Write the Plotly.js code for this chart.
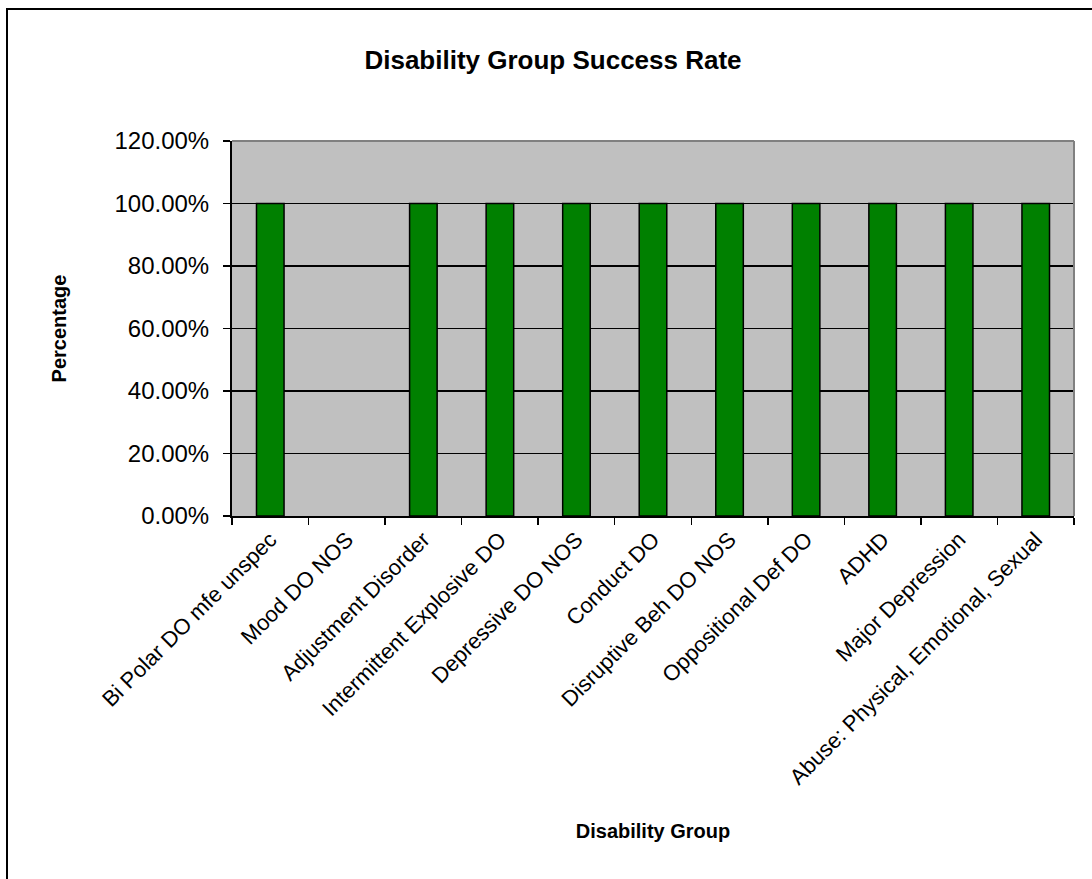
<!DOCTYPE html>
<html>
<head>
<meta charset="utf-8">
<script src="https://cdn.plot.ly/plotly-3.0.1.min.js"></script>
<style>
  html, body { margin: 0; padding: 0; background: #ffffff; }
  #wrap { position: relative; width: 1092px; height: 879px; overflow: hidden; }
  #chart { position: absolute; left: 0; top: 0; width: 1092px; height: 879px; }
  #frame { position: absolute; left: 6px; top: 8px; width: 1200px; height: 1000px;
           border-left: 2px solid #000; border-top: 2px solid #000; pointer-events: none; }
</style>
</head>
<body>
<div id="wrap">
  <div id="chart"></div>
  <div id="frame"></div>
</div>
<script>
const categories = [
  "Bi Polar DO mfe unspec",
  "Mood DO NOS",
  "Adjustment Disorder",
  "Intermittent Explosive DO",
  "Depressive DO NOS",
  "Conduct DO",
  "Disruptive Beh DO NOS",
  "Oppositional Def DO",
  "ADHD",
  "Major Depression",
  "Abuse: Physical, Emotional, Sexual"
];
const successRate = [1.0, 0.0, 1.0, 1.0, 1.0, 1.0, 1.0, 1.0, 1.0, 1.0, 1.0];
const yTickValues = [0, 0.2, 0.4, 0.6, 0.8, 1.0, 1.2];

const font = "Liberation Sans, Arial, sans-serif";

const trace = {
  type: "bar",
  x: categories,
  y: successRate,
  marker: {
    color: "#008000",
    line: { color: "#000000", width: successRate.map(v => v > 0 ? 1.5 : 0) }
  },
  hoverinfo: "x+y"
};

const layout = {
  width: 1092,
  height: 879,
  paper_bgcolor: "#ffffff",
  plot_bgcolor: "#c0c0c0",
  margin: { l: 232, r: 18, t: 141, b: 363, pad: 0 },
  showlegend: false,
  bargap: 0.64,
  title: {
    text: "<b>Disability Group Success Rate</b>",
    font: { family: font, size: 26, color: "#000" },
    x: 553 / 1092, xref: "container", xanchor: "center",
    y: 1 - 60 / 879, yref: "container", yanchor: "middle"
  },
  xaxis: {
    type: "category",
    tickangle: -45,
    tickson: "boundaries",
    ticks: "outside",
    ticklen: 7,
    tickwidth: 1.5,
    tickcolor: "#000",
    showline: true,
    linecolor: "#000",
    linewidth: 2,
    showgrid: false,
    tickfont: { family: font, size: 22, color: "#000" },
    title: {
      text: "<b>Disability Group</b>",
      font: { family: font, size: 20, color: "#000" },
      standoff: 36
    },
    automargin: false
  },
  yaxis: {
    range: [0, 1.2],
    tickvals: yTickValues,
    tickformat: ".2%",
    ticks: "outside",
    ticklen: 7,
    tickwidth: 1.5,
    tickcolor: "#000",
    ticklabelstandoff: 9,
    showline: true,
    linecolor: "#000",
    linewidth: 2,
    showgrid: true,
    gridcolor: "#000",
    gridwidth: 1.5,
    zeroline: false,
    tickfont: { family: font, size: 24, color: "#000" },
    title: {
      text: "<b>Percentage</b>",
      font: { family: font, size: 20, color: "#000" },
      standoff: 42
    },
    automargin: false
  },
  shapes: [
    { type: "line", xref: "paper", yref: "paper", x0: 0, x1: 1, y0: 1, y1: 1,
      line: { color: "#808080", width: 2 }, layer: "above" },
    { type: "line", xref: "paper", yref: "paper", x0: 1, x1: 1, y0: 0, y1: 1,
      line: { color: "#808080", width: 2 }, layer: "above" }
  ]
};

Plotly.newPlot("chart", [trace], layout, { displayModeBar: false, staticPlot: true });
</script>
</body>
</html>
